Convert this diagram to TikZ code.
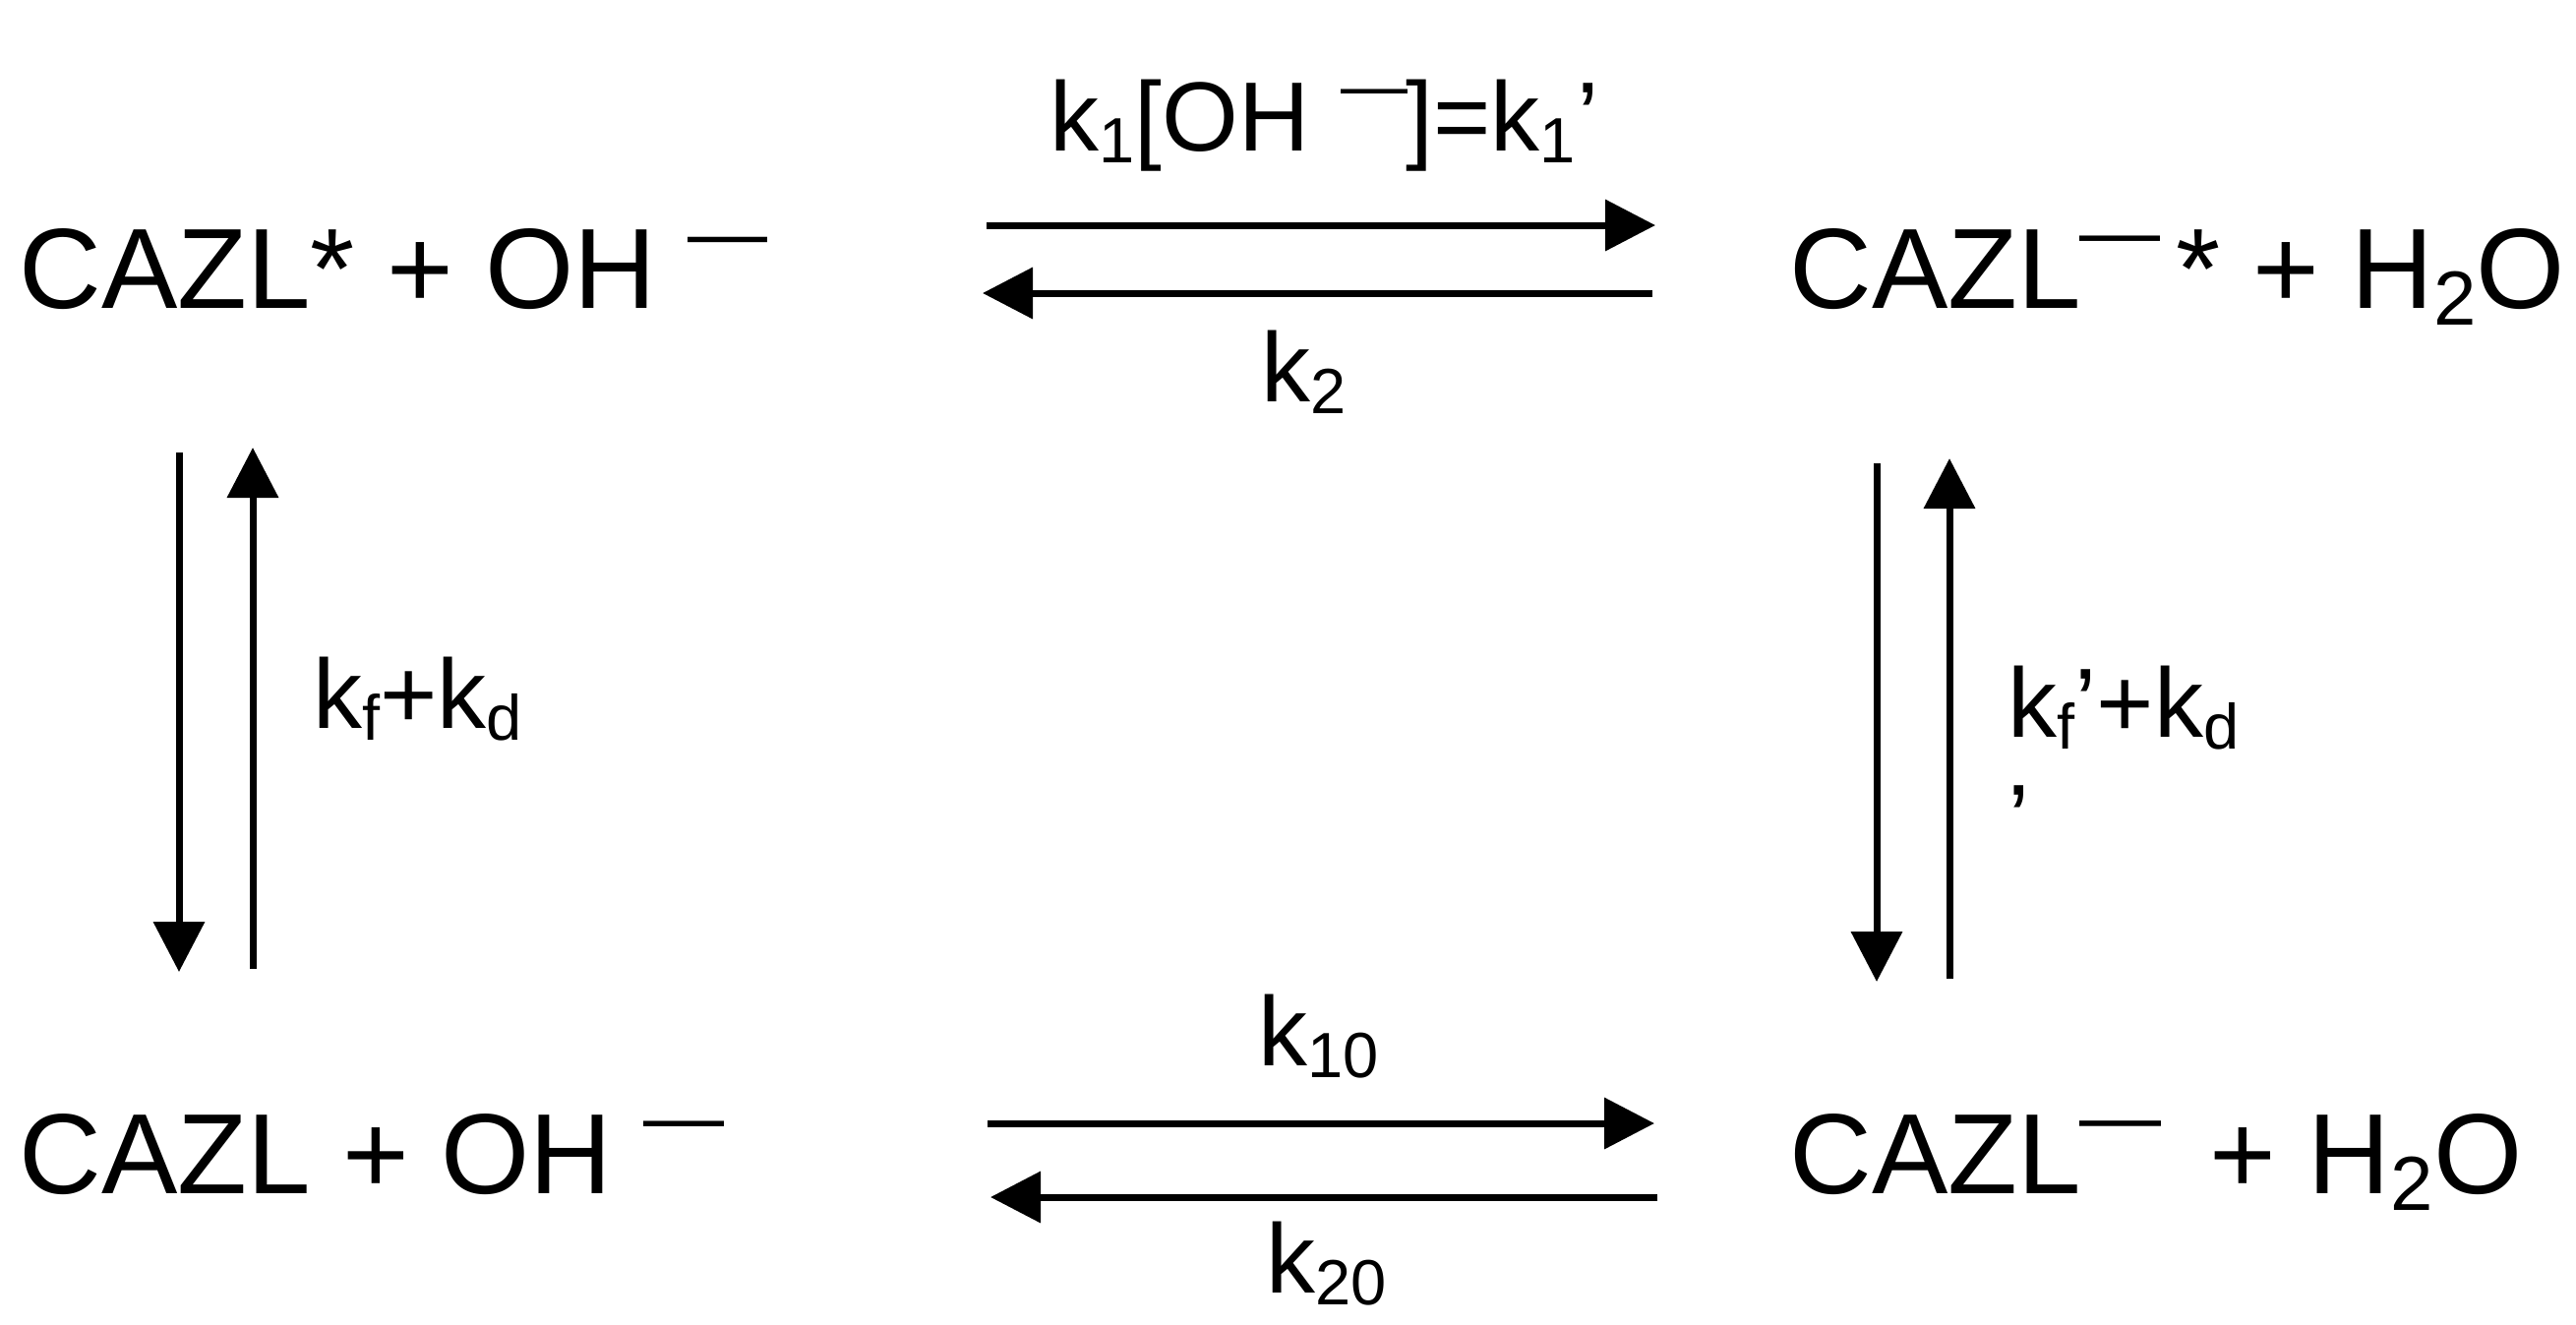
\documentclass[tikz,border=0pt]{standalone}
\usepackage{fontspec}
\setmainfont{Liberation Sans}
\usetikzlibrary{arrows.meta}
\newcommand\bigsz{\fontsize{58pt}{58pt}\selectfont}
\newcommand\labsz{\fontsize{50pt}{50pt}\selectfont}
\newcommand\sbB[1]{\raisebox{-8.5pt}{\fontsize{39pt}{39pt}\selectfont #1}}
\newcommand\sbL[1]{\raisebox{-6pt}{\fontsize{32.5pt}{32.5pt}\selectfont #1}}
\newcommand\mn[2]{\raisebox{#2}{\fontsize{#1}{#1}\selectfont —}}
\tikzset{
  big/.style={anchor=base west,inner sep=0pt,font=\bigsz},
  lab/.style={anchor=base west,inner sep=0pt,font=\labsz},
  rate/.style={line width=3.5pt,line cap=butt,-{Triangle[length=25.5pt,width=25.5pt]}},
}
\begin{document}
\begin{tikzpicture}[x=0.5pt,y=-0.5pt]
\useasboundingbox (0,0) rectangle (2619,1346);
% species
\node[big] (tl) at (19,313) {CAZL* + OH\kern16pt\mn{40.5pt}{24.5pt}};
\node[big] (tr) at (1819,313) {CAZL\kern-0.5pt\mn{41pt}{25pt}\kern8pt* + H\sbB{2}O};
\node[big] (bl) at (19,1213) {CAZL + OH\kern16pt\mn{41pt}{25pt}};
\node[big] (br) at (1819,1213) {CAZL\kern-0.5pt\mn{41.5pt}{25pt}\kern24.5pt + H\sbB{2}O};
% rate labels
\node[lab] (k1) at (1067,153) {k\sbL{1}[OH\kern16pt\mn{34pt}{21.5pt}\kern-1pt]=k\sbL{1}\kern1pt’};
\node[lab] (k2) at (1282,408) {k\sbL{2}};
\node[lab] (k10) at (1279,1083) {k\sbL{10}};
\node[lab] (k20) at (1287,1314) {k\sbL{20}};
\node[lab] (kl) at (318,740) {k\sbL{f}+k\sbL{d}};
\node[lab] (kr) at (2041,749) {k\sbL{f}’+k\sbL{d}};
\node[lab] (krc) at (2041,867) {’};
% arrow ends
\coordinate (af1) at (1003,229); \coordinate (af2) at (1683,229);
\coordinate (ar1) at (1680,298); \coordinate (ar2) at (999,298);
\coordinate (bf1) at (1004,1142); \coordinate (bf2) at (1682,1142);
\coordinate (br1) at (1685,1217); \coordinate (br2) at (1007,1217);
\coordinate (ld1) at (182,460); \coordinate (ld2) at (182,988);
\coordinate (lu1) at (257,985); \coordinate (lu2) at (257,455);
\coordinate (rd1) at (1908,471); \coordinate (rd2) at (1908,998);
\coordinate (ru1) at (1982,995); \coordinate (ru2) at (1982,466);
% arrows
\draw[rate] (af1) -- (af2);
\draw[rate] (ar1) -- (ar2);
\draw[rate] (bf1) -- (bf2);
\draw[rate] (br1) -- (br2);
\draw[rate] (ld1) -- (ld2);
\draw[rate] (lu1) -- (lu2);
\draw[rate] (rd1) -- (rd2);
\draw[rate] (ru1) -- (ru2);
\end{tikzpicture}
\end{document}
